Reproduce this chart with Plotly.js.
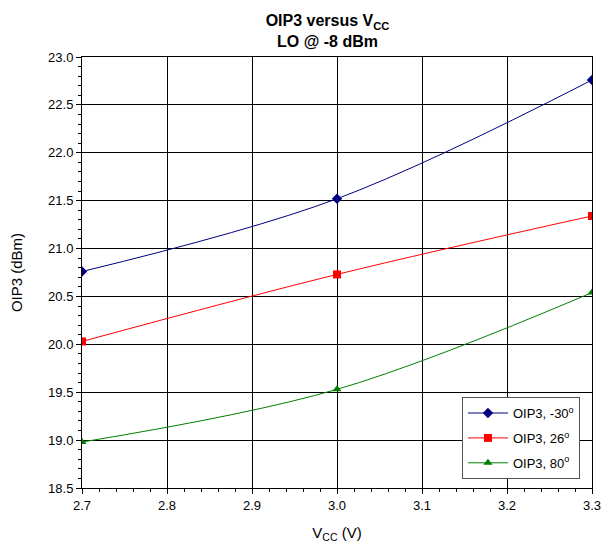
<!DOCTYPE html>
<html>
<head>
<meta charset="utf-8">
<script src="https://cdn.plot.ly/plotly-3.0.1.min.js"></script>
<style>html,body{margin:0;padding:0;background:#fff}</style>
</head>
<body>
<div id="chart" style="width:601px;height:548px"></div>
<script>
const vcc = [2.7, 3.0, 3.3];
const oipM30 = [20.76, 21.52, 22.76];
const oip26 = [20.03, 20.73, 21.34];
const oip80 = [18.98, 19.53, 20.54];
const seriesNames = ['OIP3, -30<sup>o</sup>', 'OIP3, 26<sup>o</sup>', 'OIP3, 80<sup>o</sup>'];

function tr(y, name, color, symbol, size, grp) {
  return {
    x: vcc, y: y, name: name, type: 'scatter', mode: 'lines+markers',
    legendgroup: grp,
    line: {color: color, width: 1, shape: 'spline'},
    marker: {color: color, symbol: symbol, size: size}
  };
}

const data = [
  tr(oipM30, seriesNames[0], '#000080', 'diamond', 8, 'a'),
  tr(oip26, seriesNames[1], '#FF0000', 'square', 8, 'b'),
  tr(oip80, seriesNames[2], '#008000', 'triangle-up', 8, 'c')
];

const font = {family: 'Liberation Sans, Arial, sans-serif', color: '#000'};

const layout = {
  width: 601, height: 548,
  margin: {l: 82, r: 9, t: 57, b: 60},
  paper_bgcolor: '#fff', plot_bgcolor: '#fff',
  font: Object.assign({size: 13}, font),
  title: {
    text: '<b>OIP3 versus V<sub>CC</sub></b><br><b>LO @ -8 dBm</b>',
    x: 0.545, xanchor: 'center', yref: 'container', y: 0.952, yanchor: 'middle',
    font: Object.assign({size: 16}, font)
  },
  xaxis: {
    range: [2.7, 3.3], dtick: 0.1, tick0: 2.7, tickformat: '.1f',
    showgrid: true, gridcolor: '#000', gridwidth: 1,
    showline: true, linecolor: '#000', linewidth: 1, mirror: true,
    ticks: 'outside', ticklen: 5, tickcolor: '#000',
    ticklabeloverflow: 'allow',
    minor: {dtick: 0.02, ticks: 'outside', ticklen: 3, tickcolor: '#000', showgrid: false},
    zeroline: false,
    title: {text: 'V<sub>CC</sub> (V)', font: Object.assign({size: 15}, font), standoff: 15},
    tickfont: Object.assign({size: 13}, font)
  },
  yaxis: {
    range: [18.5, 23.0], dtick: 0.5, tick0: 18.5, tickformat: '.1f',
    showgrid: true, gridcolor: '#000', gridwidth: 1,
    showline: true, linecolor: '#000', linewidth: 1, mirror: true,
    ticks: 'outside', ticklen: 5, tickcolor: '#000',
    minor: {dtick: 0.1, ticks: 'outside', ticklen: 3, tickcolor: '#000', showgrid: false},
    zeroline: false,
    title: {text: 'OIP3 (dBm)', font: Object.assign({size: 15}, font), standoff: 21},
    tickfont: Object.assign({size: 13}, font)
  },
  legend: {
    x: 0.745, y: 0.211, xanchor: 'left', yanchor: 'top',
    bgcolor: '#fff', bordercolor: '#555', borderwidth: 1,
    font: Object.assign({size: 13}, font),
    tracegroupgap: 5, itemwidth: 40
  },
  showlegend: true
};

Plotly.newPlot('chart', data, layout, {displayModeBar: false, staticPlot: true});
</script>
</body>
</html>
